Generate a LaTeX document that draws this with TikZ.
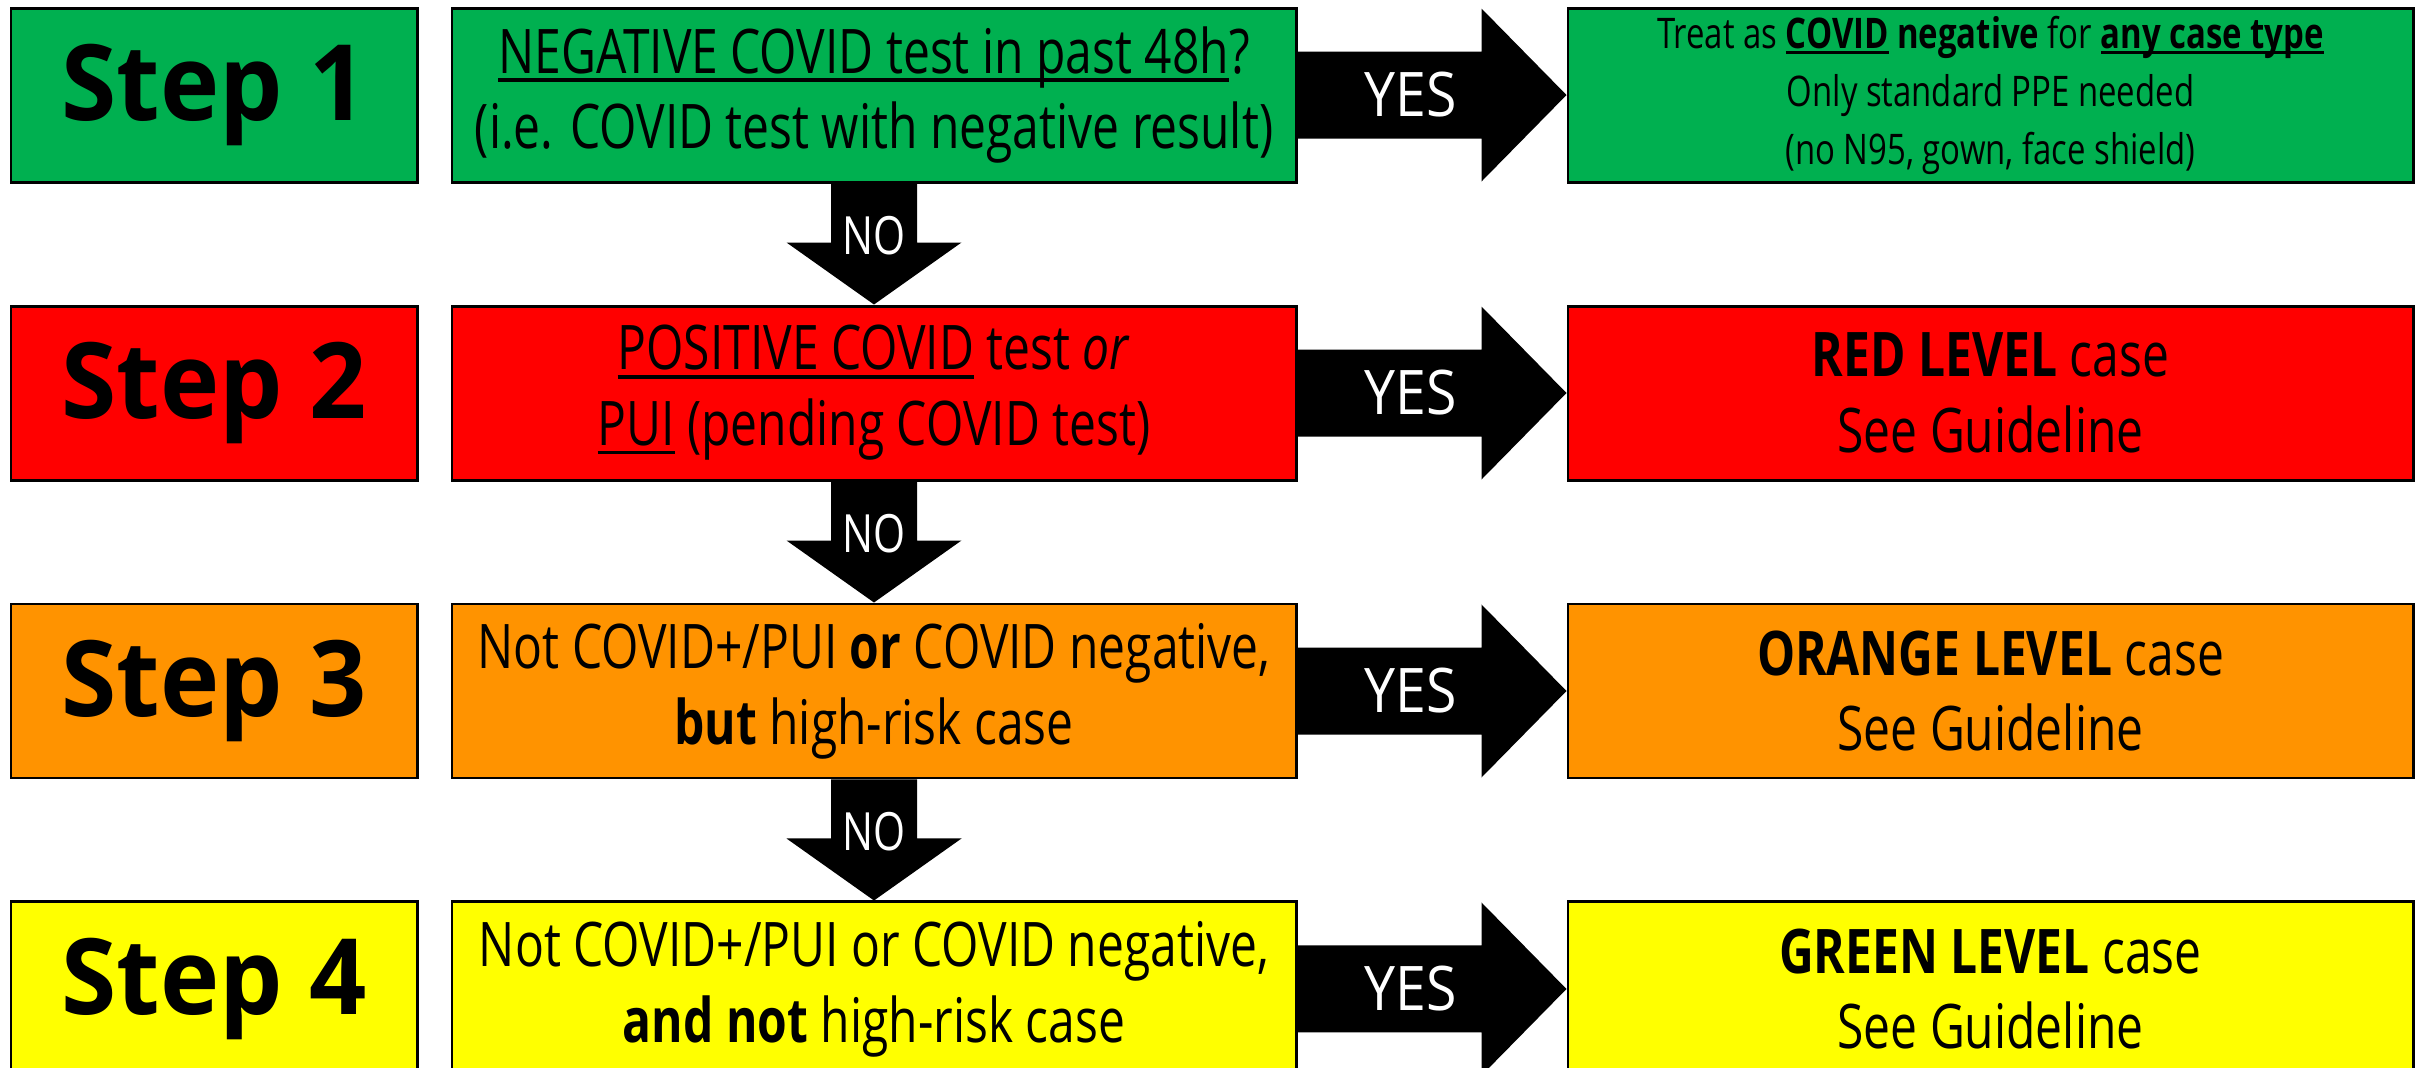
\documentclass[tikz,border=0pt]{standalone}
\usepackage{fontspec}
\setmainfont{Open Sans}[FakeStretch=0.78]
\newfontfamily\stepfont{Open Sans}[FakeStretch=0.95]
\newfontfamily\yesfont{Open Sans}[FakeStretch=0.9]
\usetikzlibrary{positioning,calc}
\definecolor{stepgreen}{HTML}{00B050}
\definecolor{stepred}{HTML}{FF0000}
\definecolor{steporange}{HTML}{FF9300}
\definecolor{stepyellow}{HTML}{FFFF00}
\newsavebox\undlbox
\newcommand{\undl}[1]{\sbox\undlbox{#1}\rlap{\rule[-0.14em]{\wd\undlbox}{0.06em}}\usebox\undlbox}

\begin{document}
\begin{tikzpicture}[node distance={12.1mm and 3.2mm},
  stepbox/.style = {draw, line width=0.85pt, minimum width=40.6mm, minimum height=17.4mm, inner sep=0pt, font=\stepfont\fontsize{30}{30}\selectfont\bfseries},
  askbox/.style = {draw, line width=0.85pt, minimum width=84.4mm, minimum height=17.4mm, inner sep=0pt, align=center, font=\fontsize{17.5}{21.6}\selectfont},
  endbox/.style = {askbox, minimum width=84.5mm},
  yesarrow/.style = {to path={let \p1=(\tikztostart), \p2=(\tikztotarget) in
    (\x1,\y1+4.35mm) -- (\x2-8.5mm,\y1+4.35mm) -- (\x2-8.5mm,\y1+8.65mm) -- (\x2,\y1)
    -- (\x2-8.5mm,\y1-8.65mm) -- (\x2-8.5mm,\y1-4.35mm) -- (\x1,\y1-4.35mm) -- cycle}},
  noarrow/.style = {to path={let \p1=(\tikztostart), \p2=(\tikztotarget) in
    (\x1-4.3mm,\y1) -- (\x1-4.3mm,\y2+6.2mm) -- (\x1-8.75mm,\y2+6.2mm) -- (\x1,\y2)
    -- (\x1+8.75mm,\y2+6.2mm) -- (\x1+4.3mm,\y2+6.2mm) -- (\x1+4.3mm,\y1) -- cycle}},
  yeslbl/.style = {text=white, inner sep=0pt, font=\yesfont\fontsize{17.5}{20}\selectfont},
  nolbl/.style = {text=white, inner sep=0pt, font=\fontsize{15}{18}\selectfont}]
\useasboundingbox (0,0) rectangle (24.17,-10.67);

% step column
\node[stepbox, fill=stepgreen] (step1) at (2.14,-0.95) {Step 1};
\node[stepbox, fill=stepred] (step2) [below=of step1] {Step 2};
\node[stepbox, fill=steporange] (step3) [below=of step2] {Step 3};
\node[stepbox, fill=stepyellow] (step4) [below=of step3] {Step 4};

% questions
\node[askbox, fill=stepgreen] (ask1) [right=of step1] {\undl{NEGATIVE COVID test in past 48h}?\\(i.e. COVID test with negative result)};
\node[askbox, fill=stepred] (ask2) [right=of step2] {\undl{POSITIVE COVID} test \textit{or}\\\undl{PUI} (pending COVID test)};
\node[askbox, fill=steporange] (ask3) [right=of step3] {Not COVID+/PUI \textbf{or} COVID negative,\\\textbf{but} high-risk case};
\node[askbox, fill=stepyellow] (ask4) [right=of step4] {Not COVID+/PUI or COVID negative,\\\textbf{and not} high-risk case};

% outcomes
\node[endbox, fill=stepgreen, font=\fontsize{12}{16.5}\selectfont] (end1) [right=26.9mm of ask1] {Treat as \undl{\textbf{COVID}} \textbf{negative} for \undl{\textbf{any case type}}\\Only standard PPE needed\\(no N95, gown, face shield)};
\node[endbox, fill=stepred] (end2) [right=26.9mm of ask2] {\textbf{RED LEVEL} case\\See Guideline};
\node[endbox, fill=steporange] (end3) [right=26.9mm of ask3] {\textbf{ORANGE LEVEL} case\\See Guideline};
\node[endbox, fill=stepyellow] (end4) [right=26.9mm of ask4] {\textbf{GREEN LEVEL} case\\See Guideline};

% yes arrows
\fill (ask1.east) to[yesarrow] (end1.west);
\fill (ask2.east) to[yesarrow] (end2.west);
\fill (ask3.east) to[yesarrow] (end3.west);
\fill (ask4.east) to[yesarrow] (end4.west);
\node[yeslbl] (yes1) at ($(ask1.east)!0.42!(end1.west)$) {YES};
\node[yeslbl] (yes2) at ($(ask2.east)!0.42!(end2.west)$) {YES};
\node[yeslbl] (yes3) at ($(ask3.east)!0.42!(end3.west)$) {YES};
\node[yeslbl] (yes4) at ($(ask4.east)!0.42!(end4.west)$) {YES};

% no arrows
\fill (ask1.south) to[noarrow] (ask2.north);
\fill (ask2.south) to[noarrow] (ask3.north);
\fill (ask3.south) to[noarrow] (ask4.north);
\node[nolbl] (no1) at ($(ask1.south)!0.43!(ask2.north)$) {NO};
\node[nolbl] (no2) at ($(ask2.south)!0.43!(ask3.north)$) {NO};
\node[nolbl] (no3) at ($(ask3.south)!0.43!(ask4.north)$) {NO};
\end{tikzpicture}
\end{document}
